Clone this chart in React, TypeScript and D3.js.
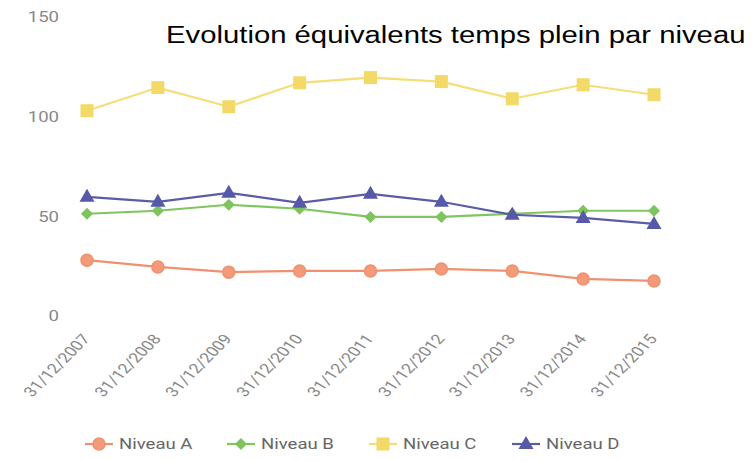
import React from "react";
import * as d3 from "d3";

const categories = ["31/12/2007","31/12/2008","31/12/2009","31/12/2010","31/12/2011","31/12/2012","31/12/2013","31/12/2014","31/12/2015"];
const niveauA = [28, 24.6, 22, 22.6, 22.6, 23.6, 22.6, 18.6, 17.6];
const niveauB = [51.3, 52.8, 55.8, 53.8, 49.7, 49.7, 51.3, 52.8, 52.8];
const niveauC = [103, 114.6, 105, 117, 119.6, 117.6, 109, 116, 111];
const niveauD = [59.8, 57.3, 61.8, 56.8, 61.3, 57.3, 50.8, 49.2, 46.2];
const yTicks = [0, 50, 100, 150];
const title = "Evolution équivalents temps plein par niveau";

const series = [
  { name: "Niveau A", values: niveauA, color: "#F09070", fill: "#F39B78", shape: "circle" },
  { name: "Niveau B", values: niveauB, color: "#80C660", fill: "#7DC45C", shape: "diamond" },
  { name: "Niveau C", values: niveauC, color: "#F5DE78", fill: "#F3DA68", shape: "square" },
  { name: "Niveau D", values: niveauD, color: "#5A5CA8", fill: "#5658A8", shape: "triangle" },
];

const W = 753, H = 461;
const SX = 1.28;

function Marker({ shape, x, y, color, fill }: any) {
  if (shape === "circle") return <circle cx={x} cy={y} r={6} fill={fill} stroke={color} strokeWidth={1.5} />;
  if (shape === "square") return <rect x={x - 6.5} y={y - 6.5} width={13} height={13} fill={fill} />;
  if (shape === "diamond") return <path d={`M${x},${y - 6}L${x + 6},${y}L${x},${y + 6}L${x - 6},${y}Z`} fill={fill} />;
  return <path d={`M${x},${y - 8}L${x + 7.5},${y + 5}L${x - 7.5},${y + 5}Z`} fill={fill} />;
}

export default function App() {
  const x = d3.scalePoint<string>().domain(categories).range([87, 654]);
  const y = d3.scaleLinear().domain([0, 150]).range([316, 17]);
  const line = d3.line<number>().x((_, i) => x(categories[i]) as number).y((d) => y(d));
  const legendX = [99, 241, 383, 526];
  return (
    <svg width={W} height={H} style={{ position: "absolute", left: 0, top: 0, background: "#fff" }}
      fontFamily="Roboto, 'Open Sans', sans-serif">
      {yTicks.map((t) => (
        <text key={t} transform={`translate(59,${y(t)}) scale(${SX},1)`} textAnchor="end" dy="0.36em"
          fontSize={14.5} fill="#888">{t}</text>
      ))}
      {categories.map((c) => (
        <text key={c} transform={`translate(${(x(c) as number) + 4},${339}) scale(${SX},1) rotate(-52)`}
          textAnchor="end" fontSize={14} fill="#888">{c}</text>
      ))}
      {series.map((s) => (
        <g key={s.name}>
          <path d={line(s.values) || ""} fill="none" stroke={s.color} strokeWidth={2.2} />
          {s.values.map((v, i) => (
            <Marker key={i} shape={s.shape} x={x(categories[i])} y={y(v)} color={s.color} fill={s.fill} />
          ))}
        </g>
      ))}
      <text transform="translate(166,43) scale(1.21,1)" fontFamily="'Liberation Sans', Arial, sans-serif" fontSize={24.2} fill="#000">{title}</text>
      {series.map((s, i) => (
        <g key={s.name}>
          <line x1={legendX[i] - 14} x2={legendX[i] + 14} y1={444} y2={444} stroke={s.color} strokeWidth={2.2} />
          <Marker shape={s.shape} x={legendX[i]} y={444} color={s.color} fill={s.fill} />
          <text transform={`translate(${legendX[i] + 20},444) scale(${SX},1)`} dy="0.36em" fontSize={14.5} fill="#666">{s.name}</text>
        </g>
      ))}
    </svg>
  );
}
